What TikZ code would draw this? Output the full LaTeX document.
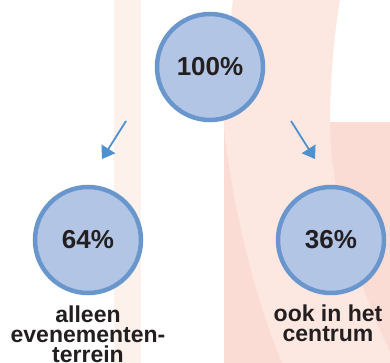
\documentclass[tikz,border=0pt]{standalone}
\usepackage{fontspec}
\setmainfont{Liberation Sans}
\usetikzlibrary{arrows.meta}
\definecolor{stripe}{HTML}{FDF1EC}
\definecolor{bandlight}{HTML}{FCE7E1}
\definecolor{banddark}{HTML}{FADCD5}
\definecolor{ringblue}{HTML}{6A96CE}
\definecolor{fillblue}{HTML}{B3C5E5}
\definecolor{arrowblue}{HTML}{4E91CF}
\definecolor{txt}{HTML}{231F20}
\tikzset{
  pct/.style={circle, draw=ringblue, fill=fillblue, line width=4.5pt,
    minimum size=106pt, inner sep=0pt, text=txt,
    font=\fontsize{26}{26}\selectfont\bfseries},
  lbl/.style={text=txt, align=center, inner sep=0pt, anchor=base,
    font=\fontsize{23}{20}\selectfont\bfseries},
  arr/.style={draw=arrowblue, line width=1.8pt,
    -{Triangle[length=12pt,width=16pt]}}
}
\begin{document}
\begin{tikzpicture}[x=1pt,y=-1pt]
\useasboundingbox (0,0) rectangle (390,363);
\fill[white] (0,0) rectangle (390,363);
% background shapes
\fill[stripe] (114,0) rectangle (141,363);
\fill[banddark] (330,122) rectangle (390,363);
\fill[bandlight] (233,0) .. controls (227,50) and (224,90) .. (224,130)
  -- (224,363) -- (390,363) -- (390,352)
  .. controls (360,290) and (330,200) .. (330,122)
  .. controls (330,90) and (333,40) .. (340,0) -- cycle;
\fill[banddark] (224,130) .. controls (236,230) and (260,310) .. (282,363)
  -- (224,363) -- cycle;
% circles
\node[pct] (top) at (210,67) {100\%};
\node[pct] (left) at (88,240) {64\%};
\node[pct] (right) at (331,240) {36\%};
% labels (anchor base = baseline of the last line)
\node[lbl] (lblL) at (88,362) {alleen\\evenementen-\\terrein};
\node[lbl] (lblR) at (328,341) {ook in het\\centrum};
% arrows
\coordinate (aLs) at (126,121);
\coordinate (aLe) at (102,159);
\coordinate (aRs) at (291,121);
\coordinate (aRe) at (315,159);
\draw[arr] (aLs) -- (aLe);
\draw[arr] (aRs) -- (aRe);
\end{tikzpicture}
\end{document}
